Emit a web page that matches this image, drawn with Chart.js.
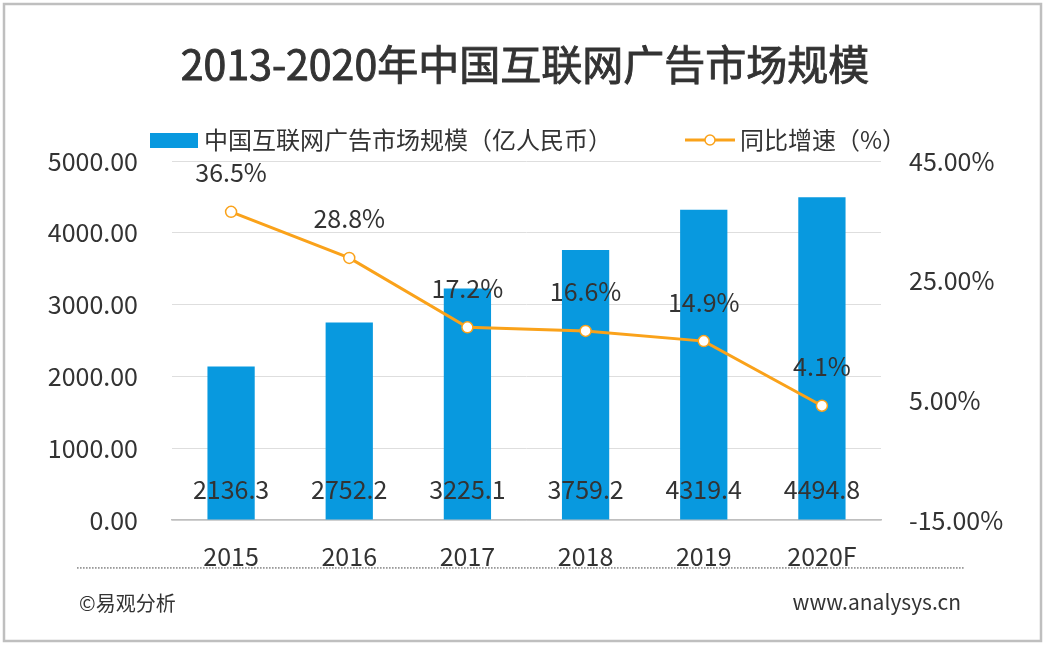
<!DOCTYPE html>
<html><head><meta charset="utf-8">
<script src="https://cdn.jsdelivr.net/npm/chart.js@4"></script>
<style>html,body{margin:0;padding:0;background:#fff;overflow:hidden}canvas{display:block}</style>
</head><body>
<canvas id="c" width="1047" height="649"></canvas>
<script>
const categories = ['2015','2016','2017','2018','2019','2020F'];
const marketSize = [2136.3, 2752.2, 3225.1, 3759.2, 4319.4, 4494.8];
const growthRate = [36.5, 28.8, 17.2, 16.6, 14.9, 4.1];
const leftTicks = [0, 1000, 2000, 3000, 4000, 5000];
const rightTicks = [-15, 5, 25, 45];
const titleText = '2013-2020年中国互联网广告市场规模';
const barName = '中国互联网广告市场规模（亿人民币）';
const lineName = '同比增速（%）';
const sourceText = '©易观分析';
const siteText = 'www.analysys.cn';

const FONT = '"Noto Sans CJK SC","Noto Sans",sans-serif';
const TXT = '#333333';
const BAR = '#0899DF';
const LINE = '#FAA21A';

const decor = {
  id: 'decor',
  beforeDraw(chart) {
    const c = chart.ctx;
    c.save();
    c.fillStyle = '#fff';
    c.fillRect(0, 0, chart.width, chart.height);
    c.strokeStyle = '#bfbfbf';
    c.lineWidth = 2.5;
    c.strokeRect(4, 4, 1037, 637);
    c.restore();
  },
  afterDraw(chart) {
    const c = chart.ctx;
    c.save();
    // title (regular weight with a thin outline to approximate a medium weight)
    c.fillStyle = TXT;
    c.strokeStyle = TXT;
    c.lineWidth = 0.9;
    c.font = '41px ' + FONT;
    c.textAlign = 'center';
    c.textBaseline = 'middle';
    c.fillText(titleText, 525, 64);
    c.strokeText(titleText, 525, 64);
    // legend
    c.fillStyle = BAR;
    c.fillRect(150, 133, 48, 15);
    c.fillStyle = TXT;
    c.font = '24px ' + FONT;
    c.textAlign = 'left';
    c.fillText(barName, 204, 140);
    c.strokeStyle = LINE;
    c.lineWidth = 3;
    c.beginPath(); c.moveTo(685, 140); c.lineTo(735, 140); c.stroke();
    c.fillStyle = '#fff';
    c.lineWidth = 1.5;
    c.beginPath(); c.arc(710, 140, 5, 0, Math.PI * 2); c.fill(); c.stroke();
    c.fillStyle = TXT;
    c.fillText(lineName, 740, 140);
    // data labels
    c.textAlign = 'center';
    c.font = '25px ' + FONT;
    const barMeta = chart.getDatasetMeta(0);
    barMeta.data.forEach((el, i) => {
      c.fillText(marketSize[i].toFixed(1), el.x, chart.scales.y.getPixelForValue(0) - 31);
    });
    const lineMeta = chart.getDatasetMeta(1);
    lineMeta.data.forEach((el, i) => {
      c.fillText(growthRate[i].toFixed(1) + '%', el.x, el.y - 39);
    });
    // dotted separator
    c.fillStyle = '#9a9a9a';
    for (let x = 77; x <= 963; x += 3) c.fillRect(x, 567, 1.6, 1.8);
    // footer
    c.fillStyle = TXT;
    c.font = '20px ' + FONT;
    c.textAlign = 'left';
    c.fillText(sourceText, 79, 603);
    c.font = '21px ' + FONT;
    c.textAlign = 'right';
    c.fillText(siteText, 961, 602);
    c.restore();
  }
};

new Chart(document.getElementById('c'), {
  data: {
    labels: categories,
    datasets: [
      { type: 'bar', label: barName, data: marketSize, backgroundColor: BAR, yAxisID: 'y',
        barPercentage: 0.5, categoryPercentage: 0.8, order: 1 },
      { type: 'line', label: lineName, data: growthRate, yAxisID: 'y1', borderColor: LINE, borderWidth: 3,
        pointRadius: 5.5, pointBackgroundColor: '#fff', pointBorderColor: LINE, pointBorderWidth: 1.5,
        tension: 0, order: 0 }
    ]
  },
  options: {
    responsive: false,
    animation: false,
    devicePixelRatio: 1,
    layout: { padding: { top: 161, bottom: 79, left: 0, right: 0 } },
    plugins: { legend: { display: false }, title: { display: false }, tooltip: { enabled: false } },
    scales: {
      x: {
        grid: { display: false, drawTicks: false },
        border: { display: true, color: '#bfbfbf', width: 1.5 },
        ticks: { color: TXT, font: { size: 25, family: FONT }, padding: 21, maxRotation: 0 },
        afterFit(s) { s.height = 50; }
      },
      y: {
        position: 'left', min: 0, max: 5000,
        afterBuildTicks(s) { s.ticks = leftTicks.map(v => ({ value: v })); },
        grid: { color: '#dedede', lineWidth: 1, drawTicks: false },
        border: { display: false },
        ticks: { color: TXT, font: { size: 25, family: FONT }, padding: 34, callback: v => Number(v).toFixed(2) },
        afterFit(s) { s.width = 172; }
      },
      y1: {
        position: 'right', min: -15, max: 45,
        afterBuildTicks(s) { s.ticks = rightTicks.map(v => ({ value: v })); },
        grid: { display: false, drawTicks: false },
        border: { display: false },
        ticks: { color: TXT, font: { size: 25, family: FONT }, padding: 28, callback: v => Number(v).toFixed(2) + '%' },
        afterFit(s) { s.width = 166; }
      }
    }
  },
  plugins: [decor]
});
</script>
</body></html>
